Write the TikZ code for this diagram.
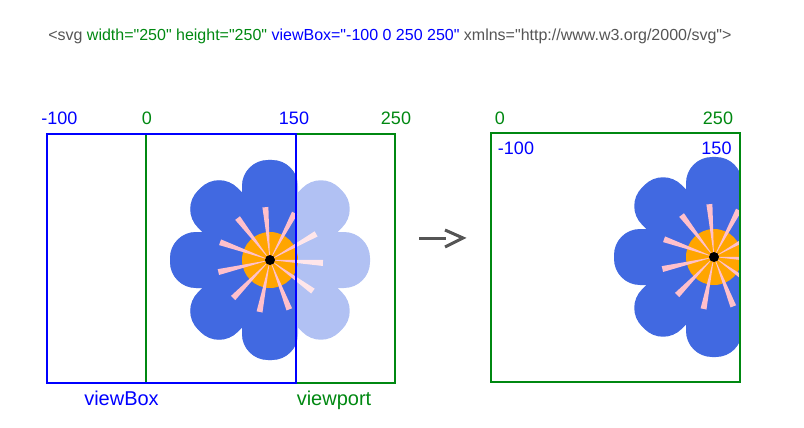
\documentclass[tikz,border=0pt]{standalone}
\usepackage{fontspec}
\setmainfont{Liberation Sans}[Ligatures=TeXOff]
\usetikzlibrary{positioning}
\definecolor{vbblue}{RGB}{0,0,255}
\definecolor{vpgreen}{RGB}{0,136,17}
\definecolor{codegray}{RGB}{85,85,85}
\definecolor{petal}{RGB}{65,105,225}
\definecolor{petallight}{RGB}{177,193,243}
\definecolor{rayfull}{RGB}{255,192,203}
\definecolor{raylight}{RGB}{255,230,234}
\definecolor{heart}{RGB}{255,165,0}
\newcommand{\drawflower}[2]{%
  \foreach \a in {0,45,...,315}
    \fill[#1,rotate=\a,rounded corners=19.5pt] (0,-28) rectangle (100,28);
  \fill[heart] (0,0) circle (28);
  \foreach \i in {0,...,10}
    \fill[#2,rotate={-3.2+32.727*\i}] (0,0) -- (53,-3) -- (53,3) -- cycle;
  \fill[black] (0,0) circle (5);
}

\begin{document}
\begin{tikzpicture}[x=.75pt,y=-.75pt,
    lbl/.style={inner sep=0pt,anchor=base,font=\fontsize{13.5pt}{15pt}\selectfont},
    bluelbl/.style={lbl,text=vbblue},
    greenlbl/.style={lbl,text=vpgreen},
    bigblue/.style={bluelbl,font=\fontsize{15pt}{17pt}\selectfont},
    biggreen/.style={greenlbl,font=\fontsize{15pt}{17pt}\selectfont},
    box/.style={line width=1.5pt},
    arrowline/.style={line width=2.25pt,draw=codegray}]
  \useasboundingbox (0,0) rectangle (804,428);

  % code line
  \node (code) [inner sep=0pt,anchor=base west,text=codegray,font=\fontsize{12pt}{14pt}\selectfont] at (48,41)
    {<svg \textcolor{vpgreen}{width="250" height="250"} \textcolor{vbblue}{viewBox="-100 0 250 250"} xmlns="http://www.w3.org/2000/svg">};

  % left flower
  \begin{scope}[shift={(270,260)}]
    \drawflower{petallight}{raylight}
    \begin{scope}
      \clip (-223,-126) rectangle (26,123);
      \drawflower{petal}{rayfull}
    \end{scope}
  \end{scope}
  \draw[box,vpgreen] (146,134) rectangle (395,383);
  \draw[box,vbblue] (47,134) rectangle (296,383);

  \node[bluelbl] (vbmin) at (59.5,124) {-100};
  \node[greenlbl] (vpzero) at (147,124) {0};
  \node[bluelbl] (vbmax) at (294,124) {150};
  \node[greenlbl] (vpmax) at (396,124) {250};
  \node[bigblue] (vblabel) at (121.5,405) {viewBox};
  \node[biggreen] (vplabel) at (334,405) {viewport};

  % arrow
  \coordinate (arrowstart) at (419,238);
  \coordinate (arrowend) at (446,238);
  \coordinate (tipup) at (445,230);
  \coordinate (tip) at (463,238);
  \coordinate (tipdown) at (445,247);
  \draw[arrowline] (arrowstart) -- (arrowend);
  \draw[arrowline] (tipup) -- (tip) -- (tipdown);

  % right flower
  \begin{scope}[shift={(714,257)}]
    \clip (-223,-124) rectangle (26,125);
    \drawflower{petal}{rayfull}
  \end{scope}
  \draw[box,vpgreen] (491,133) rectangle (740,382);

  \node[greenlbl] (outzero) at (500,124) {0};
  \node[greenlbl] (outmax) at (718,124) {250};
  \node[bluelbl] (outmin) at (516,155) {-100};
  \node[bluelbl] (outlast) at (716.5,155) {150};
\end{tikzpicture}
\end{document}
